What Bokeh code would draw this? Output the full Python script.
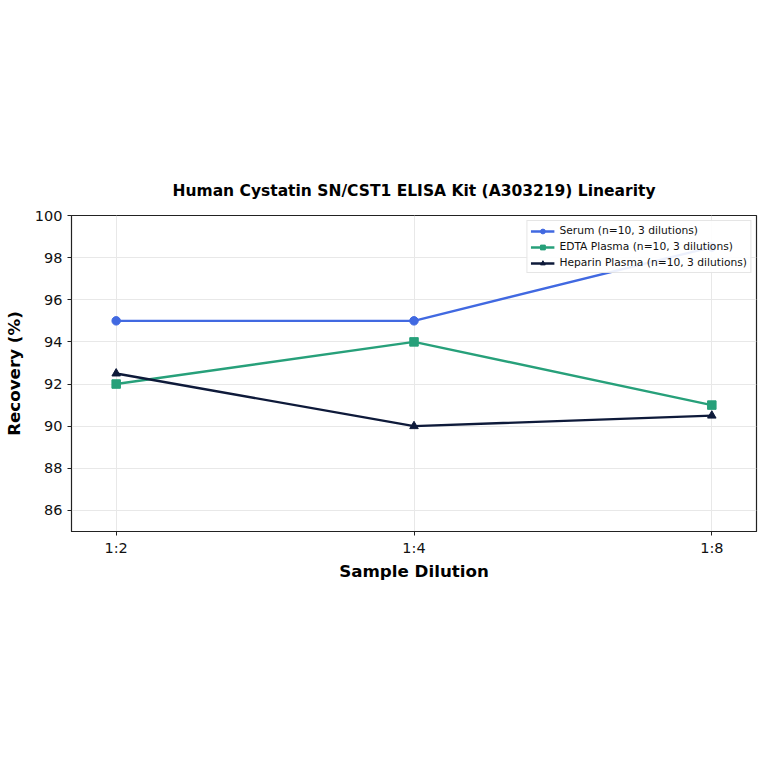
from bokeh.plotting import figure
from bokeh.models import Range1d, FixedTicker, Legend, LegendItem
from bokeh.embed import file_html
from bokeh.resources import INLINE

dilutions = ["1:2", "1:4", "1:8"]
serum = [95.0, 95.0, 98.5]
edta = [92.0, 94.0, 91.0]
heparin = [92.5, 90.0, 90.5]
series_names = ["Serum (n=10, 3 dilutions)", "EDTA Plasma (n=10, 3 dilutions)", "Heparin Plasma (n=10, 3 dilutions)"]
colors = ["#4169E1", "#27A07A", "#0E1A3A"]
y_ticks = [86, 88, 90, 92, 94, 96, 98, 100]

xs = list(range(len(dilutions)))

p = figure(width=760, height=608, output_backend="svg", toolbar_location=None,
           x_range=Range1d(-0.15, 2.15), y_range=Range1d(85, 100),
           min_border_left=70, min_border_right=4, min_border_top=215, min_border_bottom=77,
           title="Human Cystatin SN/CST1 ELISA Kit (A303219) Linearity")
p.title.text_font = "DejaVu Sans"
p.title.text_font_size = "15.5px"
p.title.text_font_style = "bold"
p.title.text_color = "black"
p.title.align = "center"
p.title.offset = 0
p.title.standoff = 32

p.xaxis.ticker = FixedTicker(ticks=xs)
p.xaxis.major_label_overrides = {i: d for i, d in enumerate(dilutions)}
p.yaxis.ticker = FixedTicker(ticks=y_ticks)
p.xaxis.axis_label = "Sample Dilution"
p.yaxis.axis_label = "Recovery (%)"
for ax in [p.xaxis[0], p.yaxis[0]]:
    ax.axis_label_text_font = "DejaVu Sans"
    ax.axis_label_text_font_style = "bold"
    ax.axis_label_text_font_size = "16.7px"
    ax.axis_label_text_color = "black"
    ax.major_label_text_font = "DejaVu Sans"
    ax.major_label_text_font_size = "14.5px"
    ax.major_label_text_color = "#111111"
    ax.axis_line_color = "#222222"
    ax.major_tick_line_color = "#222222"
    ax.minor_tick_line_color = None
    ax.major_tick_out = 4
    ax.major_tick_in = 0
p.xaxis.major_label_standoff = 4
p.xaxis.axis_label_standoff = 2
p.yaxis.axis_label_standoff = 8

p.grid.grid_line_color = "#e8e8e8"
p.grid.grid_line_width = 1
p.outline_line_color = "#222222"
p.outline_line_width = 1.2
p.background_fill_color = "white"

items = []
data = [serum, edta, heparin]
markers = ["circle", "square", "triangle"]
for vals, name, col, mk in zip(data, series_names, colors, markers):
    r1 = p.line(xs, vals, line_color=col, line_width=2.4)
    r2 = p.scatter(xs, vals, marker=mk, size=8.5, fill_color=col, line_color=col)
    items.append(LegendItem(label=name, renderers=[r1, r2]))

legend = Legend(items=items, location="top_right")
legend.label_text_font = "DejaVu Sans"
legend.label_text_font_size = "10.7px"
legend.label_text_color = "#111111"
legend.label_height = 12
legend.glyph_height = 12
legend.glyph_width = 24
legend.spacing = 3
legend.padding = 3
legend.margin = 5
legend.border_line_color = "#cccccc"
legend.background_fill_alpha = 0.9
p.add_layout(legend)

open("out.html", "w").write(file_html(p, INLINE))
